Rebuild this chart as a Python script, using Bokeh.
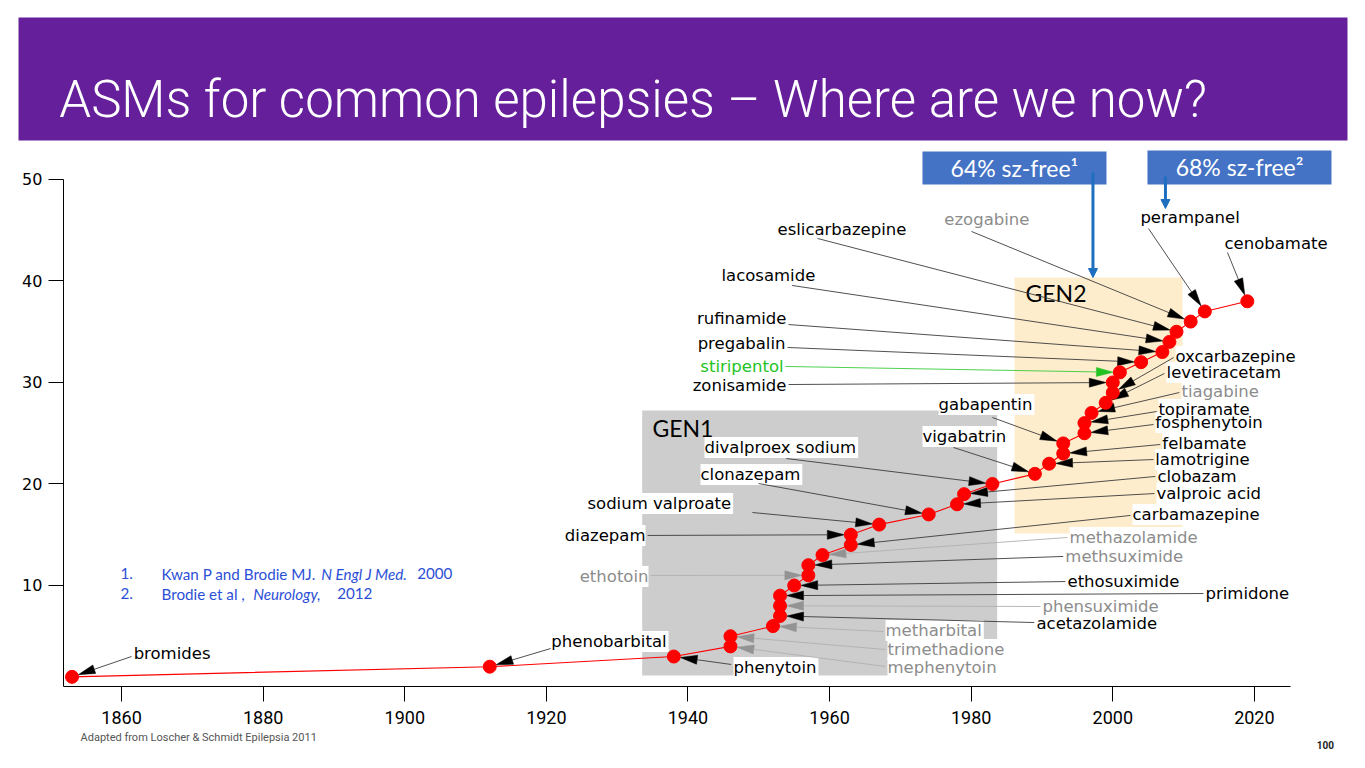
import math
from bokeh.plotting import figure
from bokeh.models import LinearAxis, Range1d, FixedTicker, Arrow, NormalHead, ColumnDataSource
from bokeh.core.properties import value
from bokeh.embed import file_html
from bokeh.resources import INLINE

# ---------------- data ----------------
drugs = ["bromides", "phenobarbital", "phenytoin", "mephenytoin", "trimethadione",
         "metharbital", "acetazolamide", "phensuximide", "primidone", "ethosuximide",
         "ethotoin", "methsuximide", "methazolamide", "carbamazepine", "diazepam",
         "sodium valproate", "clonazepam", "valproic acid", "clobazam", "divalproex sodium",
         "vigabatrin", "lamotrigine", "felbamate", "gabapentin", "fosphenytoin",
         "topiramate", "tiagabine", "levetiracetam", "oxcarbazepine", "zonisamide",
         "stiripentol", "pregabalin", "rufinamide", "lacosamide", "eslicarbazepine",
         "ezogabine", "perampanel", "cenobamate"]
years = [1853, 1912, 1938, 1946, 1946, 1952, 1953, 1953, 1953, 1955,
         1957, 1957, 1959, 1963, 1963, 1967, 1974, 1978, 1979, 1983,
         1989, 1991, 1993, 1993, 1996, 1996, 1997, 1999, 2000, 2000,
         2001, 2004, 2007, 2008, 2009, 2011, 2013, 2019]
counts = [1, 2, 3, 4, 5, 6, 7, 8, 9, 10,
          11, 12, 13, 14, 15, 16, 17, 18, 19, 20,
          21, 22, 23, 24, 25, 26, 27, 28, 29, 30,
          31, 32, 33, 34, 35, 36, 37, 38]
# label colour class: k = black, g = grey, green = green
label_kind = ["k", "k", "k", "g", "g", "g", "k", "g", "k", "k",
              "g", "g", "g", "k", "k", "k", "k", "k", "k", "k",
              "k", "k", "k", "k", "k", "k", "g", "k", "k", "k",
              "green", "k", "k", "k", "k", "g", "k", "k"]
arrow_kind = ["k", "k", "k", "g", "g", "g", "k", "g", "k", "k",
              "g", "k", "g", "k", "k", "k", "k", "k", "k", "k",
              "k", "k", "k", "k", "k", "k", "k", "k", "k", "k",
              "green", "k", "k", "k", "k", "k", "k", "k"]
x_ticks = [1860, 1880, 1900, 1920, 1940, 1960, 1980, 2000, 2020]
y_ticks = [10, 20, 30, 40, 50]
title_text = "ASMs for common epilepsies \u2013 Where are we now?"
callouts = ["64% sz-free\u00b9", "68% sz-free\u00b2"]
gen_labels = ["GEN1", "GEN2"]
ref_nums = ["1.", "2."]
ref1_parts = ["Kwan P and Brodie MJ.", "N Engl J Med.", "2000"]
ref2_parts = ["Brodie et al ,", "Neurology,", "2012"]
footer_text = "Adapted from Loscher & Schmidt Epilepsia 2011"
page_no = "100"

# ---------------- layout (annotation positions, data units) ----------------
W, H = 1357, 760
X0, X1 = 1842.897, 2034.564
Y0, Y1 = -7.242, 67.635
ppx = W / (X1 - X0)
ppy = H / (Y1 - Y0)

label_x = [1861.7, 1920.7, 1946.43, 1968.18, 1968.18, 1967.9, 1989.22, 1990.07, 2013.09, 1993.6,
           1934.42, 1993.3, 1993.9, 2002.78, 1934.0, 1925.8, 1941.77, 2006.17, 2006.3, 1942.33,
           1973.12, 2006.0, 2007.0, 1975.4, 2006.0, 2006.44, 2009.7, 2007.6, 2008.86, 1953.91,
           1953.5, 1953.77, 1953.91, 1944.73, 1952.64, 1976.2, 2003.9, 2015.78]
label_y = [3.30, 4.48, 1.92, 1.92, 3.69, 5.57, 6.26, 7.93, 9.21, 10.39,
           10.89, 12.86, 14.73, 16.99, 14.93, 18.08, 20.94, 19.06, 20.74, 23.6,
           24.68, 22.41, 23.99, 27.83, 26.06, 27.34, 29.11, 30.99, 32.56, 29.7,
           31.58, 33.84, 36.31, 40.54, 45.07, 46.06, 46.26, 43.69]
label_align = ["left"] * 10 + ["right", "left", "left", "left", "right"] + ["left"] * 14 + \
              ["right", "right", "right", "right"] + ["left"] * 5
lead_x = [1861.4, 1920.6, 1946.1, 1967.9, 1967.9, 1967.6, 1988.9, 1989.8, 2012.8, 1993.3,
          1934.7, 1993.0, 1993.6, 2002.5, 1934.3, 1949.1, 1949.96, 2005.9, 2006.0, 1953.9,
          1977.5, 2005.75, 2006.7, 1983.0, 2005.75, 2006.2, 2009.4, 2007.3, 2008.6, 1954.2,
          1953.77, 1954.05, 1954.2, 1954.7, 1958.29, 1980.04, 2005.04, 2016.2]
lead_y = [3.0, 3.79, 2.22, 2.02, 3.69, 5.47, 6.35, 7.93, 9.21, 10.39,
          10.99, 12.86, 14.73, 16.9, 14.93, 17.19, 20.05, 19.06, 20.74, 22.51,
          23.6, 22.41, 23.89, 26.55, 25.86, 27.14, 29.01, 30.89, 32.46, 29.8,
          31.58, 33.45, 35.71, 39.56, 44.19, 44.88, 45.17, 42.81]

text_col = {"k": "#000000", "g": "#8c8c8c", "green": "#22c322"}
lead_col = {"k": "#3c3c3c", "g": "#b0b0b0", "green": "#3acc3a"}
head_col = {"k": "#000000", "g": "#939393", "green": "#22c322"}

p = figure(width=W, height=H, output_backend="svg", toolbar_location=None,
           x_range=Range1d(X0, X1), y_range=Range1d(Y0, Y1),
           x_axis_type=None, y_axis_type=None, min_border=0,
           outline_line_color=None, background_fill_color="white",
           border_fill_color="white")

# title band
p.quad(left=[1845.44], right=[2033.15], bottom=[53.84], top=[65.96],
       fill_color="#651f9a", line_color=None)
p.text(x=[1851.2], y=[57.85], text=[title_text], text_color="white",
       text_font=value("Roboto Light"), text_font_size="51px",
       text_align="left", text_baseline="alphabetic")

# generation boxes
p.quad(left=[1933.53], right=[1983.67], bottom=[1.13], top=[27.24],
       fill_color="#cdcdcd", line_color=None)
p.quad(left=[1986.12], right=[2009.85], bottom=[15.12], top=[40.34],
       fill_color="#fdedcd", line_color=None)
p.text(x=[1934.98, 1987.67], y=[25.47, 38.77], text=gen_labels, text_color="black",
       text_font=value("Lato"), text_font_size="23px",
       text_align="left", text_baseline="middle")

# drug labels: first the white backgrounds, then the texts
for pass_no in (0, 1):
    for align in ("left", "right"):
        idx = [i for i in range(len(drugs)) if label_align[i] == align]
        src = ColumnDataSource(dict(x=[label_x[i] for i in idx], y=[label_y[i] for i in idx],
                                    t=[drugs[i] for i in idx],
                                    c=[text_col[label_kind[i]] for i in idx]))
        if pass_no == 0:
            p.text(x="x", y="y", text="t", text_color="c", text_alpha=0, source=src,
                   text_font=value("DejaVu Sans"), text_font_size="16.5px",
                   text_align=align, text_baseline="middle",
                   background_fill_color="white", padding=1)
        else:
            p.text(x="x", y="y", text="t", text_color="c", source=src,
                   text_font=value("DejaVu Sans"), text_font_size="16.5px",
                   text_align=align, text_baseline="middle")

# leaders + arrowheads
TIP_GAP, HEAD_LEN, HEAD_HALF = 6.5, 17.0, 4.5
seg = dict(x0=[], y0=[], x1=[], y1=[], c=[])
heads = dict(xs=[], ys=[], c=[])
for i in range(len(drugs)):
    dx = (lead_x[i] - years[i]) * ppx
    dy = (lead_y[i] - counts[i]) * ppy
    L = math.hypot(dx, dy)
    ux, uy = dx / L, dy / L
    nx, ny = -uy, ux
    tipx, tipy = TIP_GAP * ux, TIP_GAP * uy
    bx, by = (TIP_GAP + HEAD_LEN) * ux, (TIP_GAP + HEAD_LEN) * uy
    pts = [(tipx, tipy), (bx + HEAD_HALF * nx, by + HEAD_HALF * ny),
           (bx - HEAD_HALF * nx, by - HEAD_HALF * ny)]
    heads["xs"].append([years[i] + a / ppx for a, b in pts])
    heads["ys"].append([counts[i] + b / ppy for a, b in pts])
    heads["c"].append(head_col[arrow_kind[i]])
    seg["x0"].append(lead_x[i]); seg["y0"].append(lead_y[i])
    seg["x1"].append(years[i] + bx / ppx); seg["y1"].append(counts[i] + by / ppy)
    seg["c"].append(lead_col[arrow_kind[i]])
p.segment(x0="x0", y0="y0", x1="x1", y1="y1", line_color="c", line_width=0.9,
          source=ColumnDataSource(seg))
p.patches(xs="xs", ys="ys", fill_color="c", line_color="c", line_width=0.5,
          source=ColumnDataSource(heads))

# timeline
p.line(years, counts, line_color="#ff0000", line_width=1.1)
p.scatter(years, counts, size=13, fill_color="#ff0000", line_color="#ff0000")

# callouts
p.quad(left=[1973.12, 2004.9], right=[1999.11, 2030.89], bottom=[49.51, 49.51],
       top=[52.76, 52.86], fill_color="#4472c4", line_color=None)
p.text(x=[1986.1, 2017.9], y=[51.15, 51.2], text=callouts, text_color="white",
       text_font=value("Lato"), text_font_size="23px",
       text_align="center", text_baseline="middle")
blue_src = ColumnDataSource(dict(xs=[1997.2, 2007.44], ys=[50.69, 50.3],
                                 xe=[1997.2, 2007.44], ye=[40.34, 47.14]))
p.add_layout(Arrow(end=NormalHead(size=9, fill_color="#1f6fc0", line_color="#1f6fc0"),
                   x_start="xs", y_start="ys", x_end="xe", y_end="ye",
                   line_color="#1f6fc0", line_width=3, source=blue_src))

# references
ref_font = value("Lato")
RS = "15.2px"
p.text(x=[1859.84, 1859.84], y=[11.18, 9.21], text=ref_nums, text_color="#2b4fd6",
       text_font=ref_font, text_font_size=RS, text_baseline="middle")
p.text(x=[1865.64, 1901.75], y=[11.18, 11.18], text=[ref1_parts[0], ref1_parts[2]],
       text_color="#2b4fd6", text_font=ref_font, text_font_size=RS, text_baseline="middle")
p.text(x=[1888.19], y=[11.18], text=[ref1_parts[1]], text_color="#2b4fd6",
       text_font=ref_font, text_font_size=RS, text_font_style="italic", text_baseline="middle")
p.text(x=[1865.64, 1890.45], y=[9.21, 9.21], text=[ref2_parts[0], ref2_parts[2]],
       text_color="#2b4fd6", text_font=ref_font, text_font_size=RS, text_baseline="middle")
p.text(x=[1878.59], y=[9.21], text=[ref2_parts[1]], text_color="#2b4fd6",
       text_font=ref_font, text_font_size=RS, text_font_style="italic", text_baseline="middle")

# footer
p.text(x=[1854.2], y=[-4.98], text=[footer_text], text_color="#555555",
       text_font=value("Roboto"), text_font_size="11px", text_baseline="middle")
p.text(x=[2030.04], y=[-5.76], text=[page_no], text_color="#222222",
       text_font=value("Roboto"), text_font_size="10px", text_font_style="bold",
       text_align="center", text_baseline="middle")

# axes
AX_X = 1851.79
yax = LinearAxis(fixed_location=AX_X, bounds=(0, 50),
                 ticker=FixedTicker(ticks=y_ticks, minor_ticks=[]))
yax.major_tick_out = 15
yax.major_tick_in = 0
yax.minor_tick_out = 0
yax.minor_tick_in = 0
yax.axis_line_color = "black"
yax.major_tick_line_color = "black"
yax.major_label_text_font = "DejaVu Sans"
yax.major_label_text_font_size = "16px"
yax.major_label_text_color = "black"
yax.major_label_standoff = 6
p.add_layout(yax, "left")

xax = LinearAxis(fixed_location=0, bounds=(AX_X, 2025.1),
                 ticker=FixedTicker(ticks=x_ticks, minor_ticks=[]))
xax.major_tick_out = 15
xax.major_tick_in = 0
xax.minor_tick_out = 0
xax.minor_tick_in = 0
xax.axis_line_color = "black"
xax.major_tick_line_color = "black"
xax.major_label_text_font = "Roboto"
xax.major_label_text_font_size = "18px"
xax.major_label_text_color = "black"
xax.major_label_standoff = 9
p.add_layout(xax, "below")

open("out.html", "w").write(file_html(p, INLINE))
